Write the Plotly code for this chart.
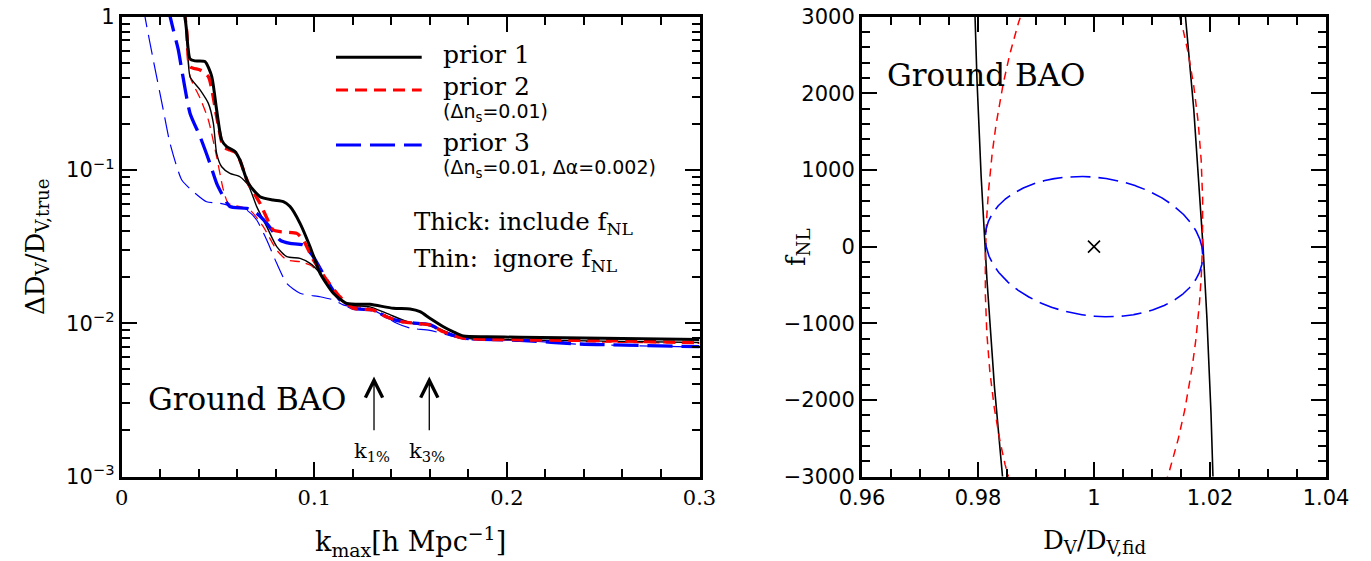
import numpy as np
import plotly.graph_objects as go

# ---------------- Left panel: fractional error on D_V vs k_max ----------------
k_p1_thick = [0.0325, 0.0335, 0.0355, 0.0380, 0.0432, 0.0467, 0.0493, 0.0519, 0.0545, 0.0588,
              0.0614, 0.0657, 0.0718, 0.0787, 0.0839, 0.0874, 0.0926, 0.0978, 0.1030, 0.1099,
              0.1168, 0.1289, 0.1410, 0.1497, 0.1549, 0.1600, 0.1670, 0.1722, 0.1774, 0.1895,
              0.2068, 0.2500, 0.3000]
dv_p1_thick = [1.10, 0.85, 0.53, 0.515, 0.51, 0.41, 0.246, 0.157, 0.142, 0.132,
               0.116, 0.082, 0.067, 0.0637, 0.0621, 0.0577, 0.0449, 0.0316, 0.0212, 0.0157,
               0.0135, 0.0133, 0.01253, 0.0124, 0.0119, 0.0108, 0.0095, 0.0088, 0.00826, 0.00818,
               0.0081, 0.0080, 0.00785]

k_p2_thick = [0.0325, 0.0338, 0.0355, 0.0407, 0.0450, 0.0493, 0.0528, 0.0562, 0.0597, 0.0657,
              0.0718, 0.0787, 0.0822, 0.0909, 0.0943, 0.0995, 0.1064, 0.1133, 0.1203, 0.1306,
              0.1376, 0.1462, 0.1600, 0.1670, 0.1774, 0.2068, 0.2500, 0.3000]
dv_p2_thick = [1.10, 0.80, 0.472, 0.449, 0.406, 0.223, 0.142, 0.135, 0.1285, 0.082,
               0.0607, 0.0406, 0.0396, 0.0386, 0.0349, 0.0259, 0.0192, 0.0149, 0.01253, 0.0122,
               0.0110, 0.0102, 0.00975, 0.0088, 0.0080, 0.0078, 0.0077, 0.00747]

k_p3_thick = [0.0240, 0.0268, 0.0294, 0.0312, 0.0355, 0.0407, 0.0458, 0.0493, 0.0528, 0.0562,
              0.0649, 0.0701, 0.0753, 0.0822, 0.0874, 0.0943, 0.0995, 0.1064, 0.1133, 0.1203,
              0.1306, 0.1376, 0.1462, 0.1600, 0.1670, 0.1774, 0.2068, 0.2380, 0.3000]
dv_p3_thick = [1.15, 0.819, 0.607, 0.449, 0.234, 0.165, 0.1106, 0.0819, 0.067, 0.0577,
               0.0562, 0.0521, 0.0449, 0.0349, 0.0332, 0.0324, 0.0272, 0.0192, 0.0142, 0.0125,
               0.0122, 0.0110, 0.0102, 0.0098, 0.0088, 0.0080, 0.00775, 0.00733, 0.00704]

k_p1_thin = [0.0325, 0.0338, 0.0355, 0.0407, 0.0450, 0.0476, 0.0493, 0.0519, 0.0562, 0.0614,
             0.0657, 0.0701, 0.0753, 0.0805, 0.0857, 0.0926, 0.0978, 0.1030, 0.1099, 0.1168,
             0.1289, 0.1376, 0.1497, 0.1600, 0.1722, 0.1774, 0.2068, 0.2500, 0.3000]
dv_p1_thin = [1.10, 0.80, 0.406, 0.333, 0.272, 0.2017, 0.1285, 0.105, 0.095, 0.0904,
              0.0798, 0.0577, 0.0427, 0.0316, 0.0272, 0.0265, 0.0246, 0.0212, 0.0157, 0.0133,
              0.0128, 0.0116, 0.0101, 0.00975, 0.0084, 0.0080, 0.0078, 0.00765, 0.0075]

k_p2_thin = [0.0325, 0.0340, 0.0355, 0.0407, 0.0450, 0.0493, 0.0528, 0.0553, 0.0614, 0.0666,
             0.0735, 0.0805, 0.0857, 0.0926, 0.0978, 0.1030, 0.1099, 0.1168, 0.1289, 0.1376,
             0.1497, 0.1600, 0.1722, 0.1774, 0.2068, 0.2500, 0.3000]
dv_p2_thin = [1.10, 0.70, 0.406, 0.294, 0.212, 0.122, 0.074, 0.0607, 0.0577, 0.0548,
              0.0427, 0.030, 0.0259, 0.0252, 0.024, 0.0212, 0.0157, 0.0132, 0.0125, 0.0112,
              0.0100, 0.0096, 0.0084, 0.0080, 0.0078, 0.00755, 0.0074]

k_p3_thin = [0.0115, 0.0121, 0.0164, 0.0216, 0.0251, 0.0312, 0.0372, 0.0441, 0.0510, 0.0580,
             0.0649, 0.0701, 0.0753, 0.0805, 0.0857, 0.0926, 0.1030, 0.1100, 0.1150, 0.1306,
             0.1428, 0.1497, 0.1600, 0.1720, 0.1810, 0.2068, 0.2380, 0.3000]
dv_p3_thin = [1.15, 1.0, 0.522, 0.246, 0.149, 0.086, 0.0722, 0.0621, 0.0607, 0.0577,
              0.0548, 0.0472, 0.0349, 0.0246, 0.0182, 0.0157, 0.0149, 0.0142, 0.0132, 0.0122,
              0.0100, 0.0093, 0.0090, 0.0082, 0.0078, 0.00775, 0.0073, 0.0070]

# arrows marking k_1% and k_3%
k_marks = [0.131, 0.1597]
k_mark_labels = ["k<sub>1%</sub>", "k<sub>3%</sub>"]

left_xtick_vals = [0, 0.1, 0.2, 0.3]
left_xtick_text = ["0", "0.1", "0.2", "0.3"]
left_ytick_vals = [1e-3, 1e-2, 1e-1, 1]
left_ytick_text = ["10<sup>\u22123</sup>", "10<sup>\u22122</sup>", "10<sup>\u22121</sup>", "1"]

# ---------------- Right panel: 1-sigma contours in (D_V/D_V,fid, f_NL) ----------------
prior_names = ["prior 1", "prior 2", "prior 3"]
dv_center = 1.0
fnl_center = 0.0
sigma_dv = [0.02096, 0.018764, 0.018752]
sigma_fnl = [11950.0, 4425.0, 915.0]
rho = [-0.442, 0.0826, -0.127]

right_xtick_vals = [0.96, 0.98, 1.0, 1.02, 1.04]
right_xtick_text = ["0.96", "0.98", "1", "1.02", "1.04"]

# ---------------- styling ----------------
W, H = 1371, 561
def px(x):
    return x / W
def py(y):
    return 1 - y / H

BLACK, RED, BLUE = "#000000", "#ff0000", "#0000ff"
SERIF = "DejaVu Serif"
SANS = "DejaVu Sans"

fig = go.Figure()

def add_left(k, v, color, width, dash):
    fig.add_trace(go.Scatter(x=k, y=v, mode="lines", xaxis="x", yaxis="y",
                             line=dict(color=color, width=width, dash=dash, shape="spline", smoothing=0.6),
                             showlegend=False, hoverinfo="skip"))

add_left(k_p3_thin, dv_p3_thin, BLUE, 1.2, "20px,8px")
add_left(k_p2_thin, dv_p2_thin, RED, 1.3, "10px,6px")
add_left(k_p1_thin, dv_p1_thin, BLACK, 1.4, "solid")
add_left(k_p3_thick, dv_p3_thick, BLUE, 3.3, "25px,9px")
add_left(k_p2_thick, dv_p2_thick, RED, 3.3, "12px,7px")
add_left(k_p1_thick, dv_p1_thick, BLACK, 3.0, "solid")

# right panel ellipses
t = np.linspace(0, 2 * np.pi, 4001)
ell_styles = [(BLACK, 1.6, "solid"), (RED, 1.5, "8px,6px"), (BLUE, 1.6, "20px,8px")]
for sd, sf, r, (c, w, d) in zip(sigma_dv, sigma_fnl, rho, ell_styles):
    fy = fnl_center + sf * np.sin(t)
    dx = dv_center + r * sd * np.sin(t) + sd * np.sqrt(1 - r * r) * np.cos(t)
    fig.add_trace(go.Scatter(x=dx, y=fy, mode="lines", xaxis="x2", yaxis="y2",
                             line=dict(color=c, width=w, dash=d),
                             showlegend=False, hoverinfo="skip"))

fig.add_trace(go.Scatter(x=[dv_center], y=[fnl_center], mode="markers", xaxis="x2", yaxis="y2",
                         marker=dict(symbol="x-thin", size=12, line=dict(width=1.6, color=BLACK)),
                         showlegend=False, hoverinfo="skip"))

axis_common = dict(showline=True, linecolor=BLACK, linewidth=3, mirror="allticks",
                   ticks="inside", ticklen=15, tickwidth=2, tickcolor=BLACK, automargin=False,
                   showgrid=False, zeroline=False, tickfont=dict(family=SANS, size=21, color=BLACK))

left_dom_x = [px(121.7), px(699.5)]
right_dom_x = [px(862), px(1326)]
dom_y = [py(476.6), py(16.7)]

fig.update_layout(
    width=W, height=H, margin=dict(l=0, r=0, t=0, b=0, autoexpand=False),
    paper_bgcolor="white", plot_bgcolor="white", showlegend=False,
    xaxis=dict(domain=left_dom_x, range=[0, 0.3], anchor="y",
               tickvals=left_xtick_vals, ticktext=left_xtick_text,
               minor=dict(ticks="inside", dtick=0.02, tick0=0, ticklen=8, tickwidth=2, tickcolor=BLACK),
               **{**axis_common, "tickfont": dict(family=SERIF, size=21, color=BLACK)}),
    yaxis=dict(domain=dom_y, type="log", range=[-3, 0], anchor="x",
               tickvals=left_ytick_vals, ticktext=left_ytick_text,
               minor=dict(ticks="inside", tickvals=[m * 10.0 ** e for e in (-3, -2, -1) for m in range(2, 10)],
                          ticklen=8, tickwidth=2, tickcolor=BLACK),
               **axis_common),
    xaxis2=dict(domain=right_dom_x, range=[0.96, 1.04], anchor="y2",
                tickvals=right_xtick_vals, ticktext=right_xtick_text,
                minor=dict(ticks="inside", dtick=0.005, tick0=0.96, ticklen=8, tickwidth=2, tickcolor=BLACK),
                **axis_common),
    yaxis2=dict(domain=dom_y, range=[-3000, 3000], anchor="x2", dtick=1000, tick0=0,
                minor=dict(ticks="inside", dtick=200, tick0=0, ticklen=8, tickwidth=2, tickcolor=BLACK),
                **axis_common),
)

# legend sample lines (left panel)
leg_lines = [(57.3, BLACK, "solid"), (90, RED, "12px,7px"), (145, BLUE, "25px,9px")]
for yy, c, d in leg_lines:
    fig.add_shape(type="line", xref="paper", yref="paper", x0=px(336), x1=px(421.7),
                  y0=py(yy), y1=py(yy), line=dict(color=c, width=3, dash=d))

ann = []
def text(x, y, s, size, family=SERIF, xanchor="left", yanchor="middle", angle=0):
    ann.append(dict(x=px(x), y=py(y), xref="paper", yref="paper", text=s, showarrow=False,
                    xanchor=xanchor, yanchor=yanchor, textangle=angle,
                    font=dict(family=family, size=size, color=BLACK)))

text(441, 55, prior_names[0], 25)
text(441, 87, prior_names[1], 25)
text(441, 112, "(\u0394n<sub>s</sub>=0.01)", 19, family=SANS)
text(441, 142, prior_names[2], 25)
text(441, 168, "(\u0394n<sub>s</sub>=0.01, \u0394\u03b1=0.002)", 19, family=SANS)
text(412, 223, "Thick: include f<sub>NL</sub>", 24.5)
text(412, 260, "Thin:\u00a0 ignore f<sub>NL</sub>", 24.5)
text(146, 399, "Ground BAO", 31)
text(885, 75, "Ground BAO", 31)

for km, lab in zip(k_marks, k_mark_labels):
    ann.append(dict(x=km, y=np.log10(0.00449), xref="x", yref="y",
                    ax=km, ay=np.log10(0.00196), axref="x", ayref="y",
                    showarrow=True, arrowhead=5, arrowsize=2.6, arrowwidth=1.3, arrowcolor=BLACK,
                    text=""))
    xpix = 121.7 + km * 1926 - 2
    text(xpix, 452, lab, 21, xanchor="center")

# axis titles
text(410, 541, "k<sub>max</sub>[h Mpc<sup>\u22121</sup>]", 27, xanchor="center")
text(1094, 541, "D<sub>V</sub>/D<sub>V,fid</sub>", 26, xanchor="center")
text(36, 247, "\u0394D<sub>V</sub>/D<sub>V,true</sub>", 26, xanchor="center", angle=-90)
text(797, 247, "f<sub>NL</sub>", 26, xanchor="center", angle=-90)

fig.update_layout(annotations=ann)
fig.write_html("out.html", config={"displayModeBar": False},
               post_script="document.body.style.margin='0';document.body.style.overflow='hidden';")
